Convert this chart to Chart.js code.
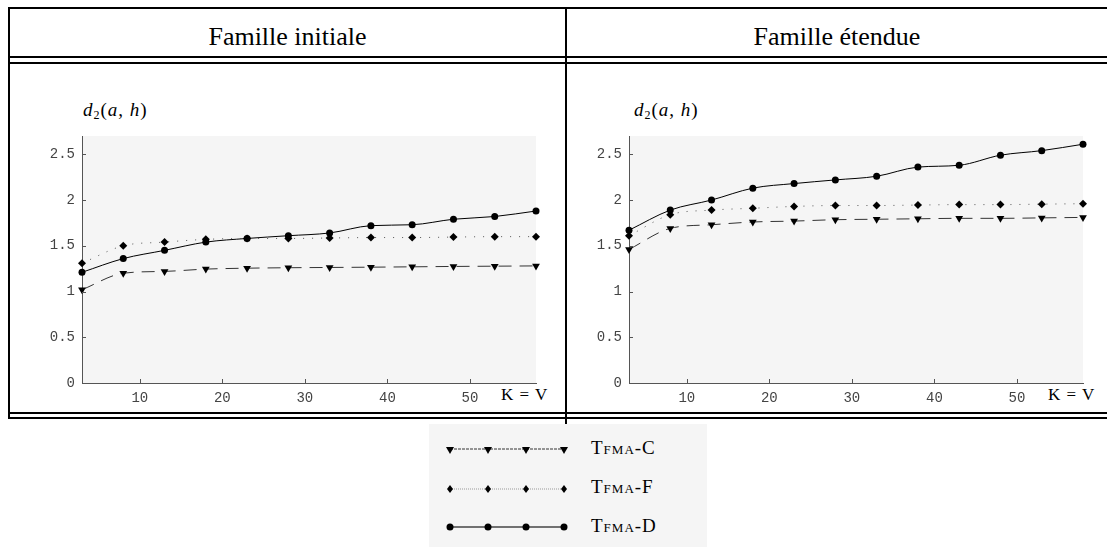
<!DOCTYPE html>
<html>
<head>
<meta charset="utf-8">
<script src="https://cdn.jsdelivr.net/npm/chart.js@4"></script>
<style>
  body { margin: 0; background: #fff; width: 1107px; height: 547px; overflow: hidden; position: relative; }
  .hl { position: absolute; background: #000; height: 2px; }
  .vl { position: absolute; background: #000; width: 2px; }
  .head { position: absolute; top: 22px; height: 32px; font: 26px "Liberation Serif", serif; text-align: center; }
  .ylab { position: absolute; top: 99px; font: 19px "Liberation Serif", serif; letter-spacing: 1px; }
  .ylab i { font-style: italic; }
  .ylab sub { font-size: 12px; vertical-align: -3px; }
  .xlab { position: absolute; top: 385px; font: 17px "Liberation Serif", serif; word-spacing: 2px; }
  .box { position: absolute; }
  #legend { position: absolute; left: 429px; top: 424px; width: 278px; height: 123px; background: #f5f5f5; }
  .leg { position: absolute; left: 162px; font: 19px "Liberation Serif", serif; font-variant: small-caps; letter-spacing: 1px; }
</style>
</head>
<body>
<div class="hl" style="left:8px;top:7px;width:1099px"></div>
<div class="hl" style="left:8px;top:56px;width:1099px"></div>
<div class="hl" style="left:8px;top:62px;width:1099px"></div>
<div class="hl" style="left:8px;top:412px;width:1099px"></div>
<div class="hl" style="left:8px;top:417px;width:1099px"></div>
<div class="vl" style="left:8px;top:7px;height:412px"></div>
<div class="vl" style="left:565px;top:7px;height:417px"></div>

<div class="head" style="left:10px;width:555px">Famille initiale</div>
<div class="head" style="left:567px;width:540px">Famille étendue</div>

<div class="ylab" style="left:83px"><i>d</i><sub>2</sub>(<i>a</i>, <i>h</i>)</div>
<div class="ylab" style="left:634px"><i>d</i><sub>2</sub>(<i>a</i>, <i>h</i>)</div>
<div class="xlab" style="left:501px">K = V</div>
<div class="xlab" style="left:1048px">K = V</div>

<div class="box" style="left:10px;top:64px;width:555px;height:346px"><canvas id="chartInitial"></canvas></div>
<div class="box" style="left:568px;top:64px;width:539px;height:346px"><canvas id="chartEtendue"></canvas></div>

<div id="legend">
  <canvas id="legendCanvas" width="150" height="123" style="position:absolute;left:0;top:0"></canvas>
  <div class="leg" style="top:13px">Tfma-C</div>
  <div class="leg" style="top:52px">Tfma-F</div>
  <div class="leg" style="top:91px">Tfma-D</div>
</div>

<script>
// valeurs de K = V
var kValues = [3, 8, 13, 18, 23, 28, 33, 38, 43, 48, 53, 58];
var xTicks = [10, 20, 30, 40, 50];
var yTicks = [0, 0.5, 1, 1.5, 2, 2.5];
var seriesNames = ["TFMA-C", "TFMA-F", "TFMA-D"];

// Famille initiale
var initialC = [1.02, 1.20, 1.22, 1.245, 1.255, 1.26, 1.263, 1.266, 1.27, 1.274, 1.277, 1.28];
var initialF = [1.31, 1.50, 1.54, 1.57, 1.58, 1.58, 1.585, 1.59, 1.59, 1.595, 1.60, 1.60];
var initialD = [1.21, 1.36, 1.45, 1.54, 1.58, 1.61, 1.64, 1.72, 1.73, 1.79, 1.82, 1.88];

// Famille étendue
var etendueC = [1.46, 1.69, 1.73, 1.76, 1.77, 1.785, 1.79, 1.795, 1.80, 1.80, 1.805, 1.81];
var etendueF = [1.61, 1.84, 1.89, 1.91, 1.93, 1.94, 1.94, 1.945, 1.95, 1.95, 1.955, 1.96];
var etendueD = [1.67, 1.89, 2.00, 2.13, 2.18, 2.22, 2.26, 2.36, 2.38, 2.49, 2.54, 2.61];

function points(values) {
    var pts = [];
    for (var i = 0; i < kValues.length; i++) {
        pts.push({ x: kValues[i], y: values[i] });
    }
    return pts;
}

// fond gris + petites graduations vers l'intérieur
var plotDecor = {
    id: "plotDecor",
    beforeDraw: function(chart) {
        var a = chart.chartArea;
        var ctx = chart.ctx;
        ctx.save();
        ctx.fillStyle = "#f5f5f5";
        ctx.fillRect(a.left, a.top, a.right - a.left, a.bottom - a.top);
        ctx.restore();
    },
    afterDraw: function(chart) {
        var a = chart.chartArea;
        var ctx = chart.ctx;
        var xs = chart.scales.x;
        var ys = chart.scales.y;
        ctx.save();
        ctx.strokeStyle = "#555";
        ctx.lineWidth = 1;
        ctx.beginPath();
        xTicks.forEach(function(t) {
            var px = Math.round(xs.getPixelForValue(t)) + 0.5;
            ctx.moveTo(px, a.bottom);
            ctx.lineTo(px, a.bottom - 4);
        });
        yTicks.forEach(function(t) {
            var py = Math.round(ys.getPixelForValue(t)) + 0.5;
            ctx.moveTo(a.left, py);
            ctx.lineTo(a.left + 4, py);
        });
        ctx.stroke();
        ctx.restore();
    }
};

function dessinerChart(id, dataC, dataF, dataD, yWidth, padRight) {
    var ctx = document.getElementById(id).getContext("2d");
    return new Chart(ctx, {
        type: "line",
        data: {
            datasets: [
                {
                    label: seriesNames[0],
                    data: points(dataC),
                    borderColor: "#333",
                    borderWidth: 1,
                    borderDash: [13, 8],
                    pointStyle: "triangle",
                    rotation: 180,
                    pointRadius: 4.5,
                    pointBackgroundColor: "#000",
                    pointBorderColor: "#000",
                    pointBorderWidth: 0
                },
                {
                    label: seriesNames[1],
                    data: points(dataF),
                    borderColor: "#555",
                    borderWidth: 1,
                    borderDash: [1, 8],
                    pointStyle: "rectRot",
                    pointRadius: 4,
                    pointBackgroundColor: "#000",
                    pointBorderColor: "#000",
                    pointBorderWidth: 0
                },
                {
                    label: seriesNames[2],
                    data: points(dataD),
                    borderColor: "#000",
                    borderWidth: 1,
                    pointStyle: "circle",
                    pointRadius: 3.5,
                    pointBackgroundColor: "#000",
                    pointBorderColor: "#000",
                    pointBorderWidth: 0
                }
            ]
        },
        options: {
            responsive: true,
            maintainAspectRatio: false,
            animation: false,
            cubicInterpolationMode: "monotone",
            clip: false,
            layout: { padding: { left: 0, top: 72, right: padRight, bottom: 0 } },
            plugins: { legend: { display: false }, tooltip: { enabled: false } },
            scales: {
                x: {
                    type: "linear",
                    min: 3,
                    max: 58,
                    afterBuildTicks: function(s) { s.ticks = xTicks.map(function(v) { return { value: v }; }); },
                    afterFit: function(s) { s.height = 27; },
                    grid: { drawOnChartArea: false, drawTicks: false },
                    border: { display: true, color: "#555", width: 1 },
                    ticks: { padding: 7, color: "#444", font: { family: "Liberation Mono", size: 14 } }
                },
                y: {
                    min: 0,
                    max: 2.7,
                    afterBuildTicks: function(s) { s.ticks = yTicks.map(function(v) { return { value: v }; }); },
                    afterFit: function(s) { s.width = yWidth; },
                    grid: { drawOnChartArea: false, drawTicks: false },
                    border: { display: true, color: "#555", width: 1 },
                    ticks: {
                        padding: 7,
                        color: "#444",
                        font: { family: "Liberation Mono", size: 14 },
                        callback: function(v) { return String(v); }
                    }
                }
            }
        },
        plugins: [plotDecor]
    });
}

dessinerChart("chartInitial", initialC, initialF, initialD, 72, 29);
dessinerChart("chartEtendue", etendueC, etendueF, etendueD, 61, 24);

// échantillons de la légende
function dessinerLegende() {
    var c = document.getElementById("legendCanvas").getContext("2d");
    var xs = [21, 59, 97, 135];
    var rows = [26, 65, 103];
    function ligne(y, color, width, dash) {
        c.save();
        c.strokeStyle = color;
        c.lineWidth = width;
        c.setLineDash(dash);
        c.beginPath();
        c.moveTo(xs[0], y);
        c.lineTo(xs[3], y);
        c.stroke();
        c.restore();
    }
    ligne(rows[0] - 1, "#333", 1, [3, 1]);
    ligne(rows[1], "#999", 1, [1, 1]);
    ligne(rows[2], "#444", 1.5, []);
    c.fillStyle = "#000";
    xs.forEach(function(x) {
        var y = rows[0];
        c.beginPath();
        c.moveTo(x - 4, y - 3);
        c.lineTo(x + 4, y - 3);
        c.lineTo(x, y + 4);
        c.closePath();
        c.fill();
        y = rows[1];
        c.beginPath();
        c.moveTo(x, y - 4);
        c.lineTo(x + 3, y);
        c.lineTo(x, y + 4);
        c.lineTo(x - 3, y);
        c.closePath();
        c.fill();
        y = rows[2];
        c.beginPath();
        c.arc(x, y, 3.5, 0, Math.PI * 2);
        c.fill();
    });
}
dessinerLegende();
</script>
</body>
</html>
